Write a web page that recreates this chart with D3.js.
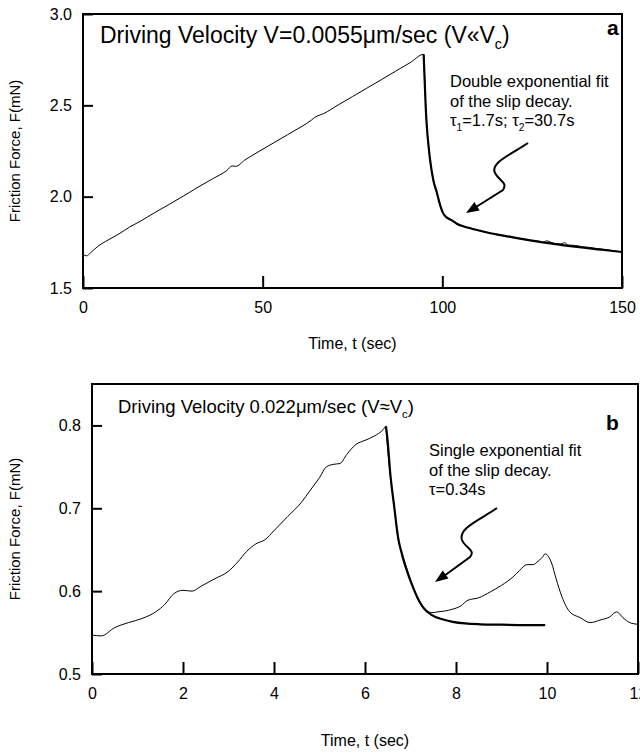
<!DOCTYPE html>
<html>
<head>
<meta charset="utf-8">
<script src="https://cdn.jsdelivr.net/npm/d3@7"></script>
<style>
  body { margin: 0; background: #fff; }
  text { font-family: "Liberation Sans", Arial, sans-serif; fill: #000; }
</style>
</head>
<body>
<script>
// ---- panel a : V = 0.0055 um/sec ----
var aTime = [0, 1, 2, 4, 7, 10, 13, 16, 20, 24, 28, 32, 36, 40, 41.5, 42.5, 45, 49, 53, 57, 61, 63.5, 64.5, 67, 71, 75, 79, 83, 87, 91, 94.8,
    95.1, 95.4, 95.7, 96.1, 96.6, 97.5, 98.5, 99.3, 100.2, 101.3, 102.7, 104, 106, 108, 110, 112.5, 115, 117, 119, 121, 123, 125,
    127, 128, 129, 131, 133, 134, 135, 137, 139, 141, 143, 145, 147, 149, 150];
var aForce = [1.684, 1.676, 1.691, 1.726, 1.763, 1.796, 1.834, 1.866, 1.913, 1.958, 2.004, 2.052, 2.097, 2.143, 2.168, 2.166, 2.200, 2.248, 2.294, 2.340, 2.386, 2.418, 2.434, 2.455, 2.502, 2.548, 2.594, 2.640, 2.687, 2.733, 2.779,
    2.63, 2.48, 2.38, 2.29, 2.20, 2.09, 2.02, 1.96, 1.91, 1.885, 1.870, 1.853, 1.836, 1.827, 1.815, 1.803, 1.794, 1.786, 1.779, 1.774, 1.764, 1.758,
    1.756, 1.749, 1.758, 1.745, 1.741, 1.748, 1.735, 1.733, 1.726, 1.722, 1.716, 1.712, 1.706, 1.700, 1.698];
var aFitTime = [94.8, 95.1, 95.4, 95.7, 96.1, 96.6, 97.5, 98.5, 99.3, 100.2, 101.3, 102.7, 104, 106, 108, 110, 112.5, 115, 120, 125, 130, 135, 140, 145, 150];
var aFitForce = [2.779, 2.63, 2.48, 2.38, 2.29, 2.20, 2.09, 2.02, 1.96, 1.91, 1.885, 1.870, 1.852, 1.837, 1.826, 1.816, 1.804, 1.794, 1.776, 1.759, 1.744, 1.731, 1.719, 1.708, 1.697];
var aXTicks = [0, 50, 100, 150];
var aYTicks = [1.5, 2.0, 2.5, 3.0];

// ---- panel b : V = 0.022 um/sec ----
var bTime = [0, 0.2, 0.5, 0.8, 1.1, 1.4, 1.6, 1.8, 2.0, 2.2, 2.4, 2.7, 3.0, 3.2, 3.4, 3.6, 3.8, 4.0, 4.3, 4.6, 4.8, 5.0, 5.15, 5.3, 5.45, 5.6, 5.8, 6.0, 6.2, 6.4, 6.46,
    6.48, 6.55, 6.64, 6.73, 6.81, 6.95, 7.06, 7.19, 7.28, 7.47, 7.6, 7.75, 7.91, 8.1, 8.26, 8.5, 8.75, 9.0, 9.25, 9.4, 9.56, 9.7, 9.78, 9.9, 9.96,
    10.1, 10.2, 10.33, 10.5, 10.73, 10.95, 11.16, 11.38, 11.53, 11.67, 11.82, 12];
var bForce = [0.547, 0.546, 0.556, 0.562, 0.567, 0.575, 0.584, 0.597, 0.601, 0.600, 0.606, 0.615, 0.624, 0.635, 0.648, 0.657, 0.662, 0.673, 0.690, 0.707, 0.722, 0.737, 0.750, 0.753, 0.754, 0.765, 0.777, 0.782, 0.787, 0.795, 0.799,
    0.783, 0.743, 0.702, 0.662, 0.646, 0.622, 0.605, 0.589, 0.581, 0.574, 0.575, 0.576, 0.578, 0.582, 0.589, 0.592, 0.599, 0.607, 0.617, 0.625, 0.632, 0.632, 0.635, 0.641, 0.645,
    0.634, 0.615, 0.593, 0.575, 0.568, 0.562, 0.565, 0.569, 0.575, 0.568, 0.562, 0.560];
var bFitTime = [6.46, 6.5, 6.55, 6.64, 6.73, 6.81, 6.95, 7.06, 7.19, 7.28, 7.47, 7.7, 7.93, 8.2, 8.53, 9.0, 9.5, 9.96];
var bFitForce = [0.799, 0.78, 0.745, 0.703, 0.664, 0.645, 0.620, 0.604, 0.588, 0.580, 0.571, 0.566, 0.563, 0.561, 0.560, 0.5595, 0.559, 0.559];
var bXTicks = [0, 2, 4, 6, 8, 10, 12];
var bYTicks = [0.5, 0.6, 0.7, 0.8];

var w = 640;
var h = 753;

var svg = d3.select("body")
    .append("svg")
    .attr("width", w)
    .attr("height", h);

// text with subscripts: parts = [[string, isSub], ...]
function richText(g, x, y, size, parts) {
    var t = g.append("text")
        .attr("x", x)
        .attr("y", y)
        .style("font-size", size + "px");
    var down = false;
    parts.forEach(function(p) {
        var s = t.append("tspan").text(p[0]);
        if (p[1] && !down) {
            s.attr("dy", size * 0.28).style("font-size", (size * 0.62) + "px");
            down = true;
        } else if (p[1]) {
            s.style("font-size", (size * 0.62) + "px");
        } else if (down) {
            s.attr("dy", -size * 0.28);
            down = false;
        }
    });
    return t;
}

function drawPanel(cfg) {
    var g = svg.append("g");

    var xScale = d3.scaleLinear().domain(cfg.xDomain).range([cfg.left, cfg.right]);
    var yScale = d3.scaleLinear().domain(cfg.yDomain).range([cfg.bottom, cfg.top]);

    var xAxis = d3.axisBottom(xScale)
        .tickValues(cfg.xTicks)
        .tickFormat(d3.format("d"))
        .tickSizeInner(-12)
        .tickSizeOuter(0)
        .tickPadding(14);
    var yAxis = d3.axisLeft(yScale)
        .tickValues(cfg.yTicks)
        .tickFormat(d3.format(".1f"))
        .tickSizeInner(-10)
        .tickSizeOuter(0)
        .tickPadding(11);

    var gx = g.append("g")
        .attr("transform", "translate(0," + cfg.bottom + ")")
        .call(xAxis);
    var gy = g.append("g")
        .attr("transform", "translate(" + cfg.left + ",0)")
        .call(yAxis);
    [gx, gy].forEach(function(a) {
        a.select(".domain").remove();
        a.selectAll("line").attr("stroke", "#000").attr("stroke-width", 2);
        a.selectAll("text")
            .style("font-size", "16px")
            .style("font-family", '"Liberation Sans", Arial, sans-serif')
            .attr("fill", "#000");
    });

    // frame
    g.append("rect")
        .attr("x", cfg.left)
        .attr("y", cfg.top)
        .attr("width", cfg.right - cfg.left)
        .attr("height", cfg.bottom - cfg.top)
        .attr("fill", "none")
        .attr("stroke", "#000")
        .attr("stroke-width", 2);

    var line = d3.line()
        .x(function(d) { return xScale(d[0]); })
        .y(function(d) { return yScale(d[1]); })
        .curve(d3.curveMonotoneX);

    g.append("path")
        .datum(d3.zip(cfg.time, cfg.force))
        .attr("d", line)
        .attr("fill", "none")
        .attr("stroke", "#000")
        .attr("stroke-width", 1);

    g.append("path")
        .datum(d3.zip(cfg.fitTime, cfg.fitForce))
        .attr("d", line)
        .attr("fill", "none")
        .attr("stroke", "#000")
        .attr("stroke-width", 2.2);

    // axis titles
    g.append("text")
        .attr("transform", "translate(" + cfg.yTitleX + "," + ((cfg.top + cfg.bottom) / 2) + ") rotate(-90)")
        .attr("text-anchor", "middle")
        .attr("dy", "0.35em")
        .style("font-size", "15px")
        .text("Friction Force, F(mN)");
    g.append("text")
        .attr("x", (cfg.left + cfg.right) / 2)
        .attr("y", cfg.xTitleY)
        .attr("text-anchor", "middle")
        .style("font-size", "16px")
        .text("Time, t (sec)");

    // heading + panel letter
    richText(g, cfg.left + cfg.headDx, cfg.top + cfg.headDy, cfg.headSize, cfg.heading);
    g.append("text")
        .attr("x", cfg.letterX)
        .attr("y", cfg.top + cfg.letterDy)
        .style("font-size", "21px")
        .style("font-weight", "bold")
        .text(cfg.letter);

    // annotation lines
    cfg.note.forEach(function(parts, i) {
        richText(g, cfg.noteX, cfg.noteY + i * 19.5, 16.5, parts);
    });

    // curly arrow
    g.append("path")
        .attr("d", cfg.arrow)
        .attr("fill", "none")
        .attr("stroke", "#000")
        .attr("stroke-width", 2);
    var tip = cfg.arrowTip, from = cfg.arrowFrom;
    var ang = Math.atan2(tip[1] - from[1], tip[0] - from[0]);
    var L = 13, Wd = 5;
    var bx = tip[0] - L * Math.cos(ang), by = tip[1] - L * Math.sin(ang);
    g.append("path")
        .attr("d", "M" + tip[0] + "," + tip[1] +
            "L" + (bx + Wd * Math.sin(ang)) + "," + (by - Wd * Math.cos(ang)) +
            "L" + (bx - Wd * Math.sin(ang)) + "," + (by + Wd * Math.cos(ang)) + "Z")
        .attr("fill", "#000");
}

drawPanel({
    left: 83, right: 622, top: 14, bottom: 288,
    xDomain: [0, 150], yDomain: [1.5, 3.0],
    xTicks: aXTicks, yTicks: aYTicks,
    time: aTime, force: aForce, fitTime: aFitTime, fitForce: aFitForce,
    yTitleX: 15, xTitleY: 349,
    headDx: 17, headDy: 29, headSize: 23,
    heading: [["Driving Velocity V=0.0055\u03bcm/sec (V\u00abV", 0], ["c", 1], [")", 0]],
    letter: "a", letterX: 607, letterDy: 21,
    note: [[["Double exponential fit", 0]], [["of the slip decay.", 0]],
        [["\u03c4", 0], ["1", 1], ["=1.7s; \u03c4", 0], ["2", 1], ["=30.7s", 0]]],
    noteX: 450, noteY: 87,
    arrow: "M528,143 C510,155 490,163 495,173 C499,181 508,182 503,190 L476,207",
    arrowFrom: [503, 190], arrowTip: [466, 213]
});

drawPanel({
    left: 92, right: 638, top: 384, bottom: 674,
    xDomain: [0, 12], yDomain: [0.5, 0.85],
    xTicks: bXTicks, yTicks: bYTicks,
    time: bTime, force: bForce, fitTime: bFitTime, fitForce: bFitForce,
    yTitleX: 15, xTitleY: 746,
    headDx: 26, headDy: 29, headSize: 18.5,
    heading: [["Driving Velocity 0.022\u03bcm/sec (V\u2248V", 0], ["c", 1], [")", 0]],
    letter: "b", letterX: 606, letterDy: 46,
    note: [[["Single exponential fit", 0]], [["of the slip decay.", 0]], [["\u03c4=0.34s", 0]]],
    noteX: 429, noteY: 456,
    arrow: "M497,508 C480,520 458,528 462,540 C465,548 476,550 470,557 L444,576",
    arrowFrom: [470, 557], arrowTip: [435, 582]
});
</script>
</body>
</html>
